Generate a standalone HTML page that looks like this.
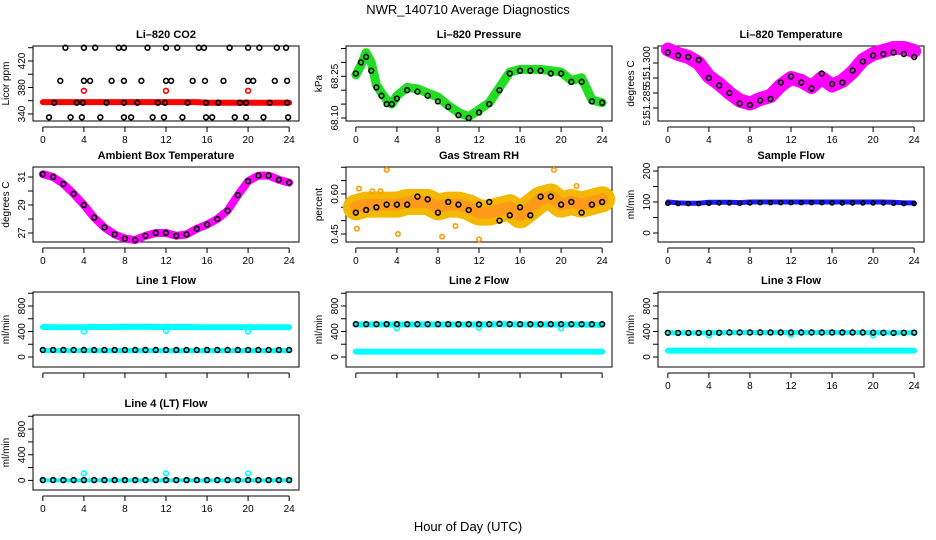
<!DOCTYPE html>
<html><head><meta charset="utf-8">
<style>
html,body{margin:0;padding:0;background:#fff;}
svg{display:block;font-family:"Liberation Sans",Arial,sans-serif;}
</style></head>
<body>
<svg id="chart" width="936" height="540" viewBox="0 0 936 540" xmlns="http://www.w3.org/2000/svg">
<text x="468" y="14" font-size="13" text-anchor="middle">NWR_140710  Average Diagnostics</text>
<text x="468" y="531" font-size="13" text-anchor="middle">Hour of Day (UTC)</text>
</svg>
<script>
// ---- data ----
const hoursH = [0,1,2,3,4,5,6,7,8,9,10,11,12,13,14,15,16,17,18,19,20,21,22,23,24];
const co2Red = [358,358,358,358,358,358,358,358,358,358,358,358,358,358,358,358,357,357,357,357,357,357,357,357,357];
const co2OutX = [4,12,20];
const co2OutY = [375,375,375];
const co2BlackX = [2.2,4,5.1,7.4,7.9,10.2,12,13.1,15.2,15.7,18.2,20,21.1,22.8,23.7,
  1.7,4,4.6,6.7,7.9,9.6,12,12.5,14.6,15.8,17.6,20,20.5,22.6,23.8,
  1.1,3.3,3.9,6.2,7.9,9.2,11.2,11.9,14.1,15.9,17.1,19.2,19.8,22.1,23.8,
  0.6,2.7,3.8,5.6,7.9,8.6,10.7,11.8,13.6,15.9,16.5,18.7,19.8,21.5,23.9];
const co2BlackY = [440,440,440,440,440,440,440,440,440,440,440,440,440,440,440,
  390,390,390,390,390,390,390,390,390,390,390,390,390,390,390,
  357,357,357,357,357,357,357,357,357,357,357,357,357,357,357,
  335,335,335,335,335,335,335,335,335,335,335,335,335,335,335];
const presX = [0,0.5,1,1.5,2,2.5,3,3.5,4,5,6,7,8,9,10,11,12,13,14,15,16,17,18,19,20,21,22,23,24];
const presG = [68.255,68.29,68.335,68.30,68.22,68.19,68.165,68.15,68.18,68.21,68.205,68.19,68.175,68.145,68.12,68.105,68.13,68.155,68.21,68.265,68.275,68.275,68.275,68.27,68.265,68.235,68.245,68.165,68.155];
const presK = [68.26,68.3,68.32,68.27,68.21,68.18,68.15,68.15,68.17,68.2,68.195,68.18,68.16,68.14,68.11,68.1,68.12,68.15,68.2,68.26,68.27,68.27,68.27,68.26,68.26,68.23,68.23,68.16,68.155];
const tempM = [51.3045,51.303,51.302,51.300,51.2955,51.293,51.290,51.2875,51.2865,51.288,51.289,51.2925,51.295,51.294,51.292,51.295,51.2925,51.294,51.297,51.301,51.303,51.304,51.305,51.305,51.304];
const tempK = [51.3035,51.3025,51.302,51.301,51.295,51.2925,51.290,51.2865,51.286,51.2875,51.288,51.2935,51.2955,51.2935,51.2915,51.2965,51.293,51.2935,51.2975,51.3005,51.3025,51.303,51.3035,51.303,51.302];
const ambM = [31.2,31.0,30.5,29.8,29.0,28.1,27.4,26.9,26.6,26.5,26.8,27.0,27.0,26.8,26.9,27.3,27.6,28.0,28.6,29.7,30.7,31.1,31.1,30.8,30.6];
const rhBand = [0.55,0.56,0.56,0.56,0.56,0.57,0.57,0.57,0.55,0.56,0.56,0.55,0.53,0.53,0.54,0.55,0.52,0.55,0.58,0.59,0.56,0.57,0.56,0.57,0.58];
const rhBlack = [0.53,0.54,0.55,0.56,0.56,0.56,0.59,0.58,0.53,0.57,0.56,0.54,0.56,0.57,0.50,0.52,0.55,0.52,0.59,0.59,0.56,0.57,0.53,0.56,0.57];
const rhOutX = [0.1,0.3,3,4.1,8.4,12,19.3,21.5,1.6,2.4,9.7];
const rhOutY = [0.47,0.62,0.69,0.45,0.44,0.43,0.69,0.63,0.61,0.61,0.48];
const sampleBlue = [100,97,96,96,99,99,99,98,100,100,100,100,100,100,100,100,100,100,100,100,100,100,99,97,97];
const sampleBlack = [96,95,95,95,96,97,97,96,97,98,98,98,98,98,98,98,97,97,97,97,97,97,96,95,95];
const l1High = [470,468,466,466,468,470,470,470,472,472,472,470,470,470,470,468,468,468,468,468,468,466,466,466,468];
const l1Low = [100,100,100,100,100,100,100,100,100,100,100,100,100,100,100,100,100,100,100,100,100,100,100,100,100];
const l1Black = [110,110,110,110,110,110,110,110,110,110,110,110,110,110,110,110,110,110,110,110,110,110,110,110,110];
const l2High = [510,510,510,510,510,510,510,510,510,510,510,510,510,510,515,515,510,510,510,510,510,510,510,505,505];
const l2Low = [85,85,85,85,85,85,85,85,85,85,85,85,85,85,85,85,85,85,85,85,85,85,85,85,85];
const l2Black = [515,515,515,515,515,515,515,515,515,515,515,515,515,515,520,515,515,515,515,515,515,515,515,515,515];
const l3Low = [100,100,100,100,100,100,100,100,100,100,100,100,100,100,100,100,100,100,100,100,100,100,100,100,100];
const l3Black = [380,378,378,378,380,380,385,385,385,385,385,385,385,385,385,385,385,385,385,385,382,380,378,380,382];
const l4Cyan = [0,0,0,0,0,0,0,0,0,0,0,0,0,0,0,0,0,0,0,0,0,0,0,0,0];
const l4Black = [5,5,5,5,5,5,5,5,5,5,5,5,5,5,5,5,5,5,5,5,5,5,5,5,5];
const flowOutX = [4,12,20];
const l1OutY = [400,410,400];
const l2OutY = [450,460,450];
const l3OutY = [340,350,340];
const l4OutY = [110,110,110];
const xTicks = [0,4,8,12,16,20,24];

// ---- drawing ----
const NS = 'http://www.w3.org/2000/svg';
const svg = document.getElementById('chart');
function mk(tag, attrs, parent){
  const e = document.createElementNS(NS, tag);
  for (const k in attrs) e.setAttribute(k, attrs[k]);
  (parent||svg).appendChild(e);
  return e;
}
const colL = [33,346,658], rowT = [46,167,292,415], W = 266, H = 75;

function panel(slug, title, col, row, dom, ticks, labels, ylab, showX){
  const L = colL[col], T = rowT[row];
  const g = mk('g', {});
  
  
  const xs = h => L + (h + 0.96) / 25.92 * W;
  const ys = v => T + H - (v - dom[0]) / (dom[1] - dom[0]) * H;
  const r = mk('rect', {x:L, y:T, width:W, height:H, fill:'none', stroke:'#000', 'stroke-width':1}, g);
  
  
  const t = mk('text', {x:L+W/2, y:T-8, 'font-size':11, 'font-weight':'bold', 'text-anchor':'middle'}, g);
  t.textContent = title;
  
  
  const yl = mk('text', {transform:`translate(${L-24},${T+H/2}) rotate(-90)`, 'font-size':10, 'text-anchor':'middle'}, g);
  yl.textContent = ylab;
  
  
  const yax = mk('g', {}, g);
  
  
  ticks.forEach(v => mk('line', {x1:L-5, x2:L, y1:ys(v), y2:ys(v), stroke:'#000'}, yax));
  labels.forEach(v => {
    const tx = mk('text', {transform:`translate(${L-8},${ys(v[0])}) rotate(-90)`, 'font-size':10, 'text-anchor':'middle'}, yax);
    tx.textContent = v[1];
  });
  const xax = mk('g', {}, g);
  
  
  mk('line', {x1:xs(0), x2:xs(24), y1:T+H+6, y2:T+H+6, stroke:'#000'}, xax);
  xTicks.forEach(h => {
    mk('line', {x1:xs(h), x2:xs(h), y1:T+H+6, y2:T+H+11, stroke:'#000'}, xax);
    if (showX){
      const tx = mk('text', {x:xs(h), y:T+H+22, 'font-size':10, 'text-anchor':'middle'}, xax);
      tx.textContent = h;
    }
  });
  return {g, xs, ys};
}
function band(p, xsArr, vals, color, w, name){
  const pts = vals.map((v,i) => p.xs(xsArr[i]).toFixed(1) + ',' + p.ys(v).toFixed(1)).join(' ');
  const e = mk('polyline', {points:pts, fill:'none', stroke:color, 'stroke-width':w, 'stroke-linejoin':'round', 'stroke-linecap':'round'}, p.g);
  
  
}
function pts(p, xsArr, vals, color, name, r){
  const g = mk('g', {}, p.g);
  
  
  vals.forEach((v,i) => mk('circle', {cx:p.xs(xsArr[i]), cy:p.ys(v), r:r||2.4, fill:'none', stroke:color, 'stroke-width':1.6}, g));
}

// CO2
let p = panel('co2', 'Li\u2013820 CO2', 0, 0, [329.4,442.6], [340,360,380,400,420,440], [[340,'340'],[380,'380'],[420,'420']], 'Licor ppm', true);
band(p, hoursH, co2Red, '#ff0000', 6, 'co2-red-series');
pts(p, co2OutX, co2OutY, '#ff0000', 'co2-red-outliers');
pts(p, co2BlackX, co2BlackY, '#000', 'co2-black-points');

// Pressure
p = panel('pressure', 'Li\u2013820 Pressure', 1, 0, [68.0892,68.359], [68.10,68.15,68.20,68.25,68.30,68.35], [[68.10,'68.10'],[68.25,'68.25']], 'kPa', true);
band(p, presX, presG, '#22dd22', 9, 'pressure-green-series');
pts(p, presX, presK, '#000', 'pressure-black-points');

// Temperature
p = panel('li820-temp', 'Li\u2013820 Temperature', 2, 0, [51.28067,51.30567], [51.285,51.290,51.295,51.300,51.305], [[51.3005,'51.300'],[51.294,'51'],[51.2875,'51.285'],[51.281,'51']], 'degrees C', true);
band(p, hoursH, tempM, '#ff00ff', 14, 'li820-temp-magenta-series');
pts(p, hoursH, tempK, '#000', 'li820-temp-black-points');

// Ambient
p = panel('ambient', 'Ambient Box Temperature', 0, 1, [26.357,31.714], [27,28,29,30,31], [[27,'27'],[29,'29'],[31,'31']], 'degrees C', true);
band(p, hoursH, ambM, '#ff00ff', 8, 'ambient-magenta-series');
pts(p, hoursH, ambM, '#000', 'ambient-black-points');

// RH
p = panel('rh', 'Gas Stream RH', 1, 1, [0.420,0.701], [0.45,0.50,0.55,0.60,0.65,0.70], [[0.45,'0.45'],[0.60,'0.60']], 'percent', true);
band(p, hoursH, rhBand, '#f5b800', 26, 'rh-orange-series');
band(p, hoursH, rhBand, '#ff9a1a', 12, 'rh-orange-core');
pts(p, rhOutX, rhOutY, '#ff9a00', 'rh-outliers', 2.2);
pts(p, hoursH, rhBlack, '#000', 'rh-black-points');

// Sample flow
p = panel('sample-flow', 'Sample Flow', 2, 1, [-29,212.9], [0,50,100,150,200], [[0,'0'],[100,'100'],[200,'200']], 'ml/min', true);
band(p, hoursH, sampleBlue, '#1a1aff', 5, 'sample-flow-blue-series');
pts(p, hoursH, sampleBlack, '#000', 'sample-flow-black-points', 2);

const fDom = [-157,1019.6], fT = [0,200,400,600,800,1000], fL = [[0,'0'],[400,'400'],[800,'800']];
// Line 1
p = panel('line1', 'Line 1 Flow', 0, 2, fDom, fT, fL, 'ml/min', false);
band(p, hoursH, l1High, '#00ffff', 6, 'line1-cyan-high');
band(p, hoursH, l1Low, '#00ffff', 5, 'line1-cyan-low');
pts(p, flowOutX, l1OutY, '#00ffff', 'line1-cyan-outliers');
pts(p, hoursH, l1Black, '#000', 'line1-black-points');
// Line 2
p = panel('line2', 'Line 2 Flow', 1, 2, fDom, fT, fL, 'ml/min', false);
band(p, hoursH, l2High, '#00ffff', 6, 'line2-cyan-high');
band(p, hoursH, l2Low, '#00ffff', 6, 'line2-cyan-low');
pts(p, flowOutX, l2OutY, '#00ffff', 'line2-cyan-outliers');
pts(p, hoursH, l2Black, '#000', 'line2-black-points');
// Line 3
p = panel('line3', 'Line 3 Flow', 2, 2, fDom, fT, fL, 'ml/min', true);
band(p, hoursH, l3Black, '#00ffff', 5, 'line3-cyan-high');
band(p, hoursH, l3Low, '#00ffff', 6, 'line3-cyan-low');
pts(p, flowOutX, l3OutY, '#00ffff', 'line3-cyan-outliers');
pts(p, hoursH, l3Black, '#000', 'line3-black-points');
// Line 4
p = panel('line4', 'Line 4 (LT) Flow', 0, 3, [-150,1020], fT, fL, 'ml/min', true);
band(p, hoursH, l4Cyan, '#00ffff', 4, 'line4-cyan-series');
pts(p, flowOutX, l4OutY, '#00ffff', 'line4-cyan-outliers');
pts(p, hoursH, l4Black, '#000', 'line4-black-points');
</script>
</body></html>
